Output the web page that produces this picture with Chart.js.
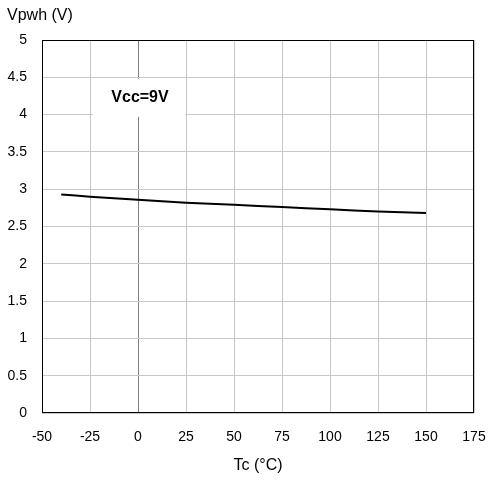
<!DOCTYPE html>
<html>
<head>
<meta charset="utf-8">
<script src="https://cdn.jsdelivr.net/npm/chart.js@4.4.1/dist/chart.umd.min.js"></script>
<style>
  html, body { margin: 0; padding: 0; background: #fff; }
  #wrap { width: 490px; height: 482px; }
</style>
</head>
<body>
<div id="wrap"><canvas id="chart" width="490" height="482"></canvas></div>
<script>
const tempC = [-40, -25, 0, 25, 50, 75, 100, 125, 150];
const vpwh = [2.93, 2.90, 2.86, 2.82, 2.79, 2.76, 2.73, 2.70, 2.68];
const xTicks = [-50, -25, 0, 25, 50, 75, 100, 125, 150, 175];
const yTicks = [0, 0.5, 1, 1.5, 2, 2.5, 3, 3.5, 4, 4.5, 5];
const yTitle = 'Vpwh (V)';
const xTitle = 'Tc (°C)';
const noteText = 'Vcc=9V';

const fontFamily = '"Liberation Sans", Arial, sans-serif';

// white label box with the supply voltage, plus frame and axis titles
const decorations = {
    id: 'decorations',
    beforeDatasetsDraw(chart) {
        const c = chart.ctx;
        const x = chart.scales.x, y = chart.scales.y;
        const left = x.getPixelForValue(-23.5), right = x.getPixelForValue(24.5);
        const top = y.getPixelForValue(4.48), bottom = y.getPixelForValue(3.97);
        c.save();
        c.fillStyle = '#fff';
        c.fillRect(left, top, right - left, bottom - top);
        c.fillStyle = '#000';
        c.font = 'bold 16px ' + fontFamily;
        c.textAlign = 'center';
        c.textBaseline = 'middle';
        c.fillText(noteText, 140, 98);
        c.restore();
    },
    afterDraw(chart) {
        const c = chart.ctx;
        const a = chart.chartArea;
        c.save();
        c.strokeStyle = '#000';
        c.lineWidth = 1;
        c.strokeRect(Math.round(a.left) + 0.5, Math.round(a.top) + 0.5,
            Math.round(a.right - a.left) - 1, Math.round(a.bottom - a.top) - 1);
        c.fillStyle = '#000';
        c.font = '16px ' + fontFamily;
        c.textBaseline = 'middle';
        c.textAlign = 'left';
        c.fillText(yTitle, 7, 16);
        c.textAlign = 'center';
        c.fillText(xTitle, (a.left + a.right) / 2, 466);
        c.restore();
    }
};

new Chart(document.getElementById('chart'), {
    type: 'scatter',
    data: {
        datasets: [{
            data: tempC.map((t, i) => ({ x: t, y: vpwh[i] })),
            showLine: true,
            borderColor: '#000',
            borderWidth: 2,
            pointRadius: 0,
            tension: 0.3
        }]
    },
    options: {
        responsive: false,
        animation: false,
        layout: { padding: { left: 0, right: 16, top: 40, bottom: 0 } },
        plugins: { legend: { display: false }, tooltip: { enabled: false } },
        scales: {
            x: {
                type: 'linear',
                min: -50, max: 175,
                afterBuildTicks: s => { s.ticks = xTicks.map(v => ({ value: v })); },
                afterFit: s => { s.height = 69; s.paddingLeft = 0; s.paddingRight = 0; },
                ticks: { color: '#000', font: { family: fontFamily, size: 14 }, padding: 16, maxRotation: 0, autoSkip: false,
                    callback: v => String(v) },
                grid: {
                    drawTicks: false,
                    color: ctx => ctx.tick && ctx.tick.value === 0 ? '#808080' : '#c8c8c8',
                    lineWidth: 1
                },
                border: { display: false }
            },
            y: {
                type: 'linear',
                min: 0, max: 5,
                afterBuildTicks: s => { s.ticks = yTicks.map(v => ({ value: v })); },
                afterFit: s => { s.width = 42; s.paddingTop = 0; s.paddingBottom = 0; },
                ticks: { color: '#000', font: { family: fontFamily, size: 14 }, padding: 15, autoSkip: false,
                    callback: v => String(v) },
                grid: { drawTicks: false, color: '#c8c8c8', lineWidth: 1 },
                border: { display: false }
            }
        }
    },
    plugins: [decorations]
});
</script>
</body>
</html>
